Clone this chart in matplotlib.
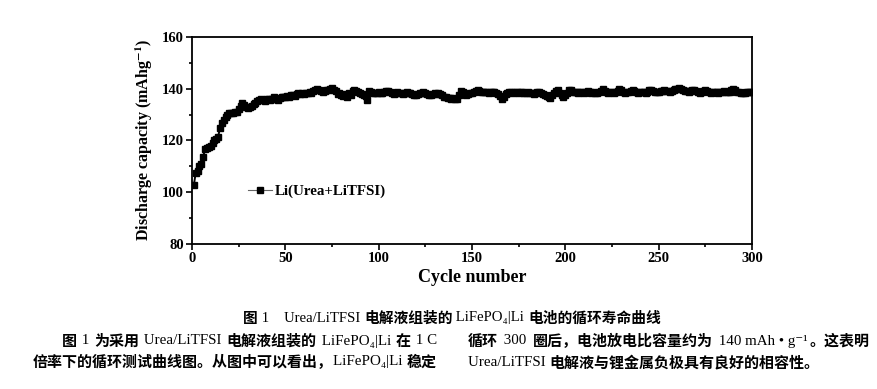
import matplotlib.pyplot as plt
from matplotlib.ticker import MultipleLocator

# 放电比容量 (mAh/g), 第 1-300 次循环
cycles = list(range(1, 301))
capacity = [
    102.8, 107.6, 108.2, 110.0, 111.0, 113.8, 116.6, 117.0, 117.4, 118.0,
    119.0, 120.0, 120.6, 121.5, 124.8, 126.7, 128.0, 129.2, 130.0, 130.6,
    130.6, 130.8, 131.0, 131.2, 132.0, 133.2, 134.3, 133.8, 133.0, 132.4,
    132.8, 133.4, 134.0, 134.6, 135.4, 135.6, 136.0, 135.8, 135.4, 136.0,
    136.2, 135.6, 136.0, 137.0, 136.2, 135.6, 136.4, 136.8, 137.0, 136.8,
    137.2, 137.0, 137.4, 137.6, 137.2, 138.0, 138.2, 137.8, 138.2, 138.0,
    138.4, 138.2, 138.6, 138.4, 139.0, 139.6, 140.0, 139.6, 139.0, 138.8,
    139.0, 139.4, 139.6, 140.0, 140.2, 139.6, 139.0, 138.0, 138.4, 137.6,
    137.2, 137.8, 137.0, 138.2, 137.4, 139.2, 139.6, 139.2, 138.6, 138.2,
    138.0, 137.6, 137.2, 135.6, 139.0, 138.8, 138.4, 138.2, 138.4, 138.6,
    138.2, 138.4, 138.8, 139.2, 139.0, 138.6, 138.2, 138.0, 138.4, 138.8,
    138.4, 138.2, 138.0, 138.4, 138.6, 138.4, 138.2, 138.0, 137.6, 137.4,
    137.8, 138.2, 138.4, 138.6, 138.2, 138.0, 137.6, 137.4, 137.8, 138.2,
    138.0, 138.2, 137.8, 137.4, 137.0, 136.8, 136.6, 136.4, 136.2, 136.4,
    136.2, 136.0, 137.4, 139.0, 138.6, 137.8, 137.6, 137.8, 138.2, 138.4,
    138.6, 139.2, 139.6, 139.2, 138.8, 138.6, 138.8, 138.6, 138.4, 138.6,
    138.8, 138.6, 138.4, 138.0, 137.2, 136.0, 137.0, 137.8, 138.4, 138.8,
    138.6, 138.4, 138.8, 138.6, 138.4, 138.6, 138.8, 138.4, 138.2, 138.6,
    138.4, 138.2, 138.0, 138.4, 138.6, 138.8, 138.4, 138.0, 137.6, 137.2,
    136.8, 136.4, 137.4, 138.2, 139.0, 139.4, 138.4, 137.4, 137.0, 137.4,
    138.2, 139.6, 139.4, 138.6, 138.8, 138.6, 138.4, 138.6, 138.8, 138.4,
    138.6, 139.0, 138.6, 138.4, 138.6, 138.4, 138.2, 138.6, 139.2, 139.8,
    139.2, 138.6, 138.4, 138.8, 138.6, 138.4, 138.6, 139.0, 139.8, 139.4,
    138.8, 138.4, 138.6, 138.8, 139.2, 139.6, 139.0, 138.6, 138.4, 138.6,
    138.8, 138.6, 138.4, 138.8, 139.4, 139.6, 139.2, 138.8, 138.6, 138.8,
    139.0, 139.2, 139.4, 139.2, 139.0, 138.8, 139.0, 139.4, 139.8, 140.0,
    140.2, 139.8, 139.4, 139.2, 139.0, 138.8, 139.0, 139.4, 139.6, 139.2,
    138.6, 138.4, 138.8, 139.2, 139.4, 139.0, 138.6, 138.4, 138.6, 138.8,
    138.6, 138.4, 138.6, 138.8, 139.0, 138.8, 138.6, 138.8, 139.4, 139.8,
    139.4, 138.8, 138.6, 138.4, 138.2, 138.4, 138.6, 138.8, 138.6, 138.8,
]
series_label = 'Li(Urea+LiTFSI)'

caption = '图 1    Urea/LiTFSI 电解液组装的 LiFePO₄|Li 电池的循环寿命曲线'
# (文字, 左端 x, 右端 x, y) 像素
body_lines = [
    ('图 1 为采用 Urea/LiTFSI 电解液组装的 LiFePO₄|Li 在 1 C', 62, 437, 341),
    ('倍率下的循环测试曲线图。从图中可以看出，LiFePO₄|Li 稳定', 33, 437, 362),
    ('循环 300 圈后，电池放电比容量约为 140 mAh • g⁻¹。这表明', 468, 870, 341),
    ('Urea/LiTFSI 电解液与锂金属负极具有良好的相容性。', 468, None, 362),
]

plt.rcParams['mathtext.fontset'] = 'stix'
serif = ['Liberation Serif', 'DejaVu Serif']
latin = ['Liberation Serif', 'DejaVu Sans']
cjk = ['Noto Sans CJK SC', 'DejaVu Sans']

W, H = 877, 389
fig = plt.figure(figsize=(W / 100, H / 100), dpi=100)
ax = fig.add_axes([192 / W, 1 - 244 / H, 560 / W, 207 / H])

ax.plot(cycles, capacity, color='black', marker='s', markersize=4.8,
        linewidth=1.4, label=series_label)

ax.set_xlim(0, 300)
ax.set_ylim(80, 160)
ax.xaxis.set_major_locator(MultipleLocator(50))
ax.xaxis.set_minor_locator(MultipleLocator(25))
ax.yaxis.set_major_locator(MultipleLocator(20))
ax.yaxis.set_minor_locator(MultipleLocator(10))
ax.tick_params(which='both', direction='out', width=1.2, top=False, right=False)
ax.tick_params(which='major', length=4, pad=2)
ax.tick_params(which='minor', length=2.5)
for s in ax.spines.values():
    s.set_linewidth(1.3)
for lab in ax.get_xticklabels() + ax.get_yticklabels():
    lab.set_family(serif)
    lab.set_fontweight('bold')
    lab.set_fontsize(10.5)

ax.set_xlabel('Cycle number', family=serif, fontweight='bold', fontsize=13, labelpad=3)
ax.set_ylabel(r'Discharge capacity (mAhg$^{\mathbf{-1}}$)', family=serif,
              fontweight='bold', fontsize=11.5, labelpad=5)

leg = ax.legend(loc='center left', bbox_to_anchor=(0.075, 0.255), frameon=False,
                handlelength=1.6, handletextpad=0.2,
                prop={'family': serif, 'weight': 'bold', 'size': 10.8})
leg.get_lines()[0].set_color('#666666')
leg.get_lines()[0].set_linewidth(0.8)
leg.get_lines()[0].set_markersize(4.2)
leg.get_lines()[0].set_markerfacecolor('black')
leg.get_lines()[0].set_markeredgecolor('black')


def split_runs(s):
    runs = []
    for c in s:
        kind = ord(c) >= 0x3000
        if runs and runs[-1][1] == kind:
            runs[-1][0] += c
        else:
            runs.append([c, kind])
    return runs


renderer = fig.canvas.get_renderer()


def draw_line(s, x0, y, size, x1=None, center=None):
    runs = split_runs(s)
    texts = []
    for part, is_cjk in runs:
        t = fig.text(0, 1 - y / H, part, fontsize=size, va='center', ha='left',
                     family=cjk if is_cjk else latin,
                     fontweight='bold' if is_cjk else 'normal')
        texts.append(t)
    widths = [t.get_window_extent(renderer).width for t in texts]
    total = sum(widths)
    gap = 0
    if center is not None:
        x0 = center - total / 2
    elif x1 is not None and len(texts) > 1:
        gap = (x1 - x0 - total) / (len(texts) - 1)
    x = x0
    for t, w in zip(texts, widths):
        t.set_x(x / W)
        x += w + gap


draw_line(caption, 0, 318, 10.6, center=452)
for txt, x0, x1, y in body_lines:
    draw_line(txt, x0, y, 10.8, x1=x1)

fig.savefig('out.png', dpi=100)
